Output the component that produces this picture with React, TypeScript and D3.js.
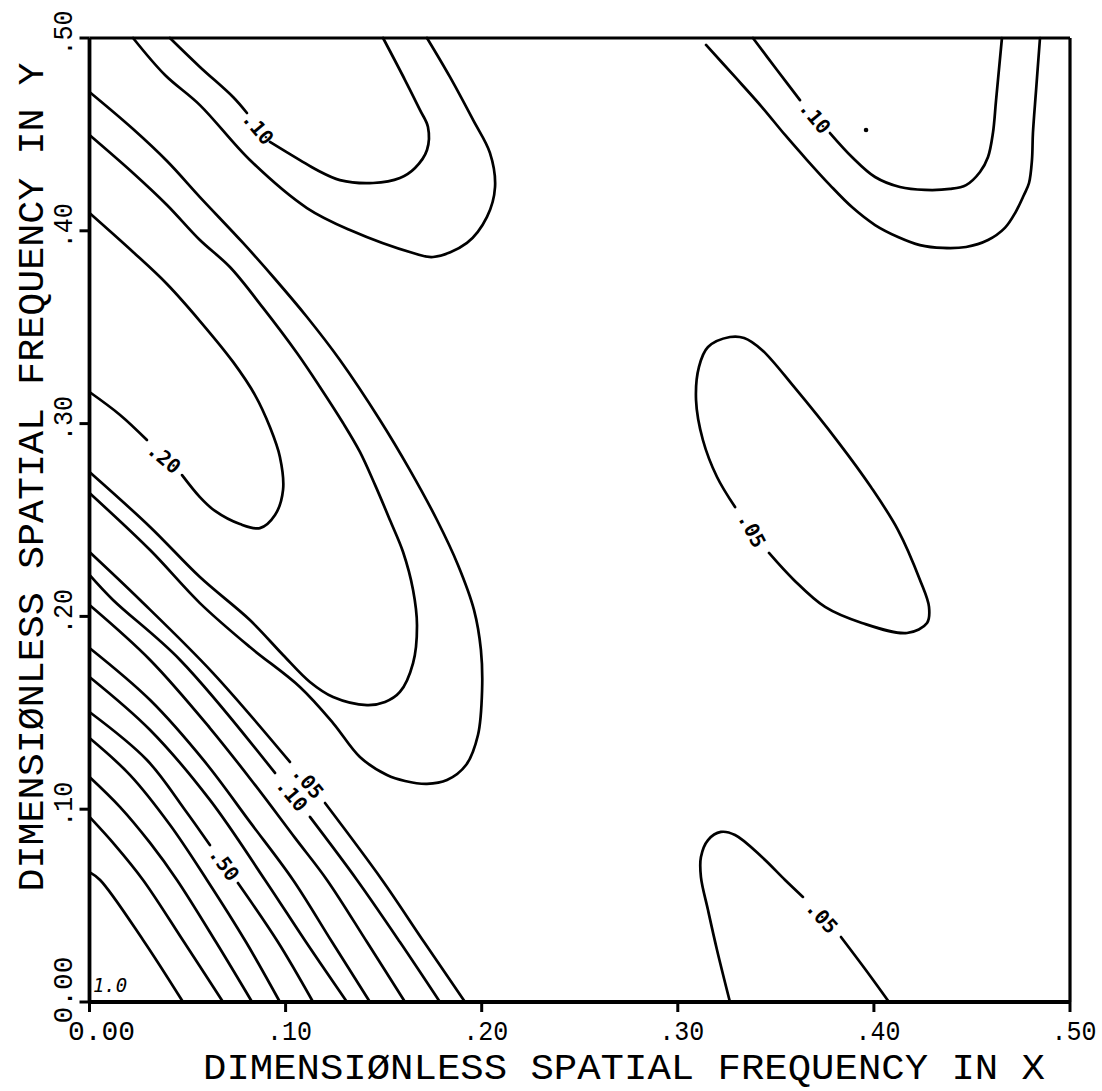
import React from "react";
import * as d3 from "d3";

type P = [number, number];

// ---- contour lines around the origin (left axis -> bottom axis) ----
const c90: P[] = [[0, 0.0674], [0.0054, 0.0633], [0.0273, 0.0322], [0.0477, 0]];
const c80: P[] = [[0, 0.096], [0.013, 0.0814], [0.0273, 0.0633], [0.0482, 0.0311], [0.0681, 0]];
const c70: P[] = [[0, 0.1167], [0.0156, 0.1011], [0.0309, 0.0825], [0.0446, 0.0633], [0.0645, 0.0311], [0.0829, 0]];
const c60: P[] = [[0, 0.1369], [0.0207, 0.1177], [0.0411, 0.0918], [0.0599, 0.0633], [0.0798, 0.0311], [0.0971, 0]];
const c50a: P[] = [[0, 0.1504], [0.0293, 0.1255], [0.0487, 0.0996], [0.0614, 0.0814]];
const c50b: P[] = [[0.0757, 0.0617], [0.0961, 0.0311], [0.114, 0]];
const c40: P[] = [[0, 0.1686], [0.0309, 0.1411], [0.0614, 0.1048], [0.0895, 0.0633], [0.1104, 0.0311], [0.1313, 0]];
const c30: P[] = [[0, 0.1836], [0.0309, 0.1566], [0.0589, 0.1245], [0.0818, 0.0934], [0.1038, 0.0633], [0.1237, 0.0311], [0.143, 0]];
const c20: P[] = [[0, 0.2059], [0.0309, 0.1774], [0.0614, 0.1421], [0.0844, 0.1126], [0.1048, 0.0851], [0.1211, 0.0633], [0.1415, 0.0311], [0.1609, 0]];
const c10a: P[] = [[0, 0.2215], [0.012, 0.2085], [0.0462, 0.1774], [0.0946, 0.1188]];
const c10b: P[] = [[0.1124, 0.096], [0.1364, 0.0633], [0.1583, 0.0311], [0.1787, 0]];
const c05a: P[] = [[0, 0.2334], [0.0258, 0.2085], [0.063, 0.1706], [0.1022, 0.1245]];
const c05b: P[] = [[0.1201, 0.1032], [0.1492, 0.0633], [0.1706, 0.0311], [0.1915, 0]];

// ---- U-shaped contours opening to the left axis ----
const uLeft05: P[] = [
  [0, 0.472], [0.0222, 0.4528], [0.0395, 0.4362], [0.0563, 0.4175], [0.0783, 0.3937], [0.0946, 0.375],
  [0.1109, 0.3553], [0.1277, 0.333], [0.1481, 0.3019], [0.1634, 0.2759], [0.1772, 0.25], [0.1879, 0.2267],
  [0.1961, 0.2033], [0.1996, 0.1826], [0.2002, 0.1618], [0.1981, 0.1385], [0.192, 0.1229], [0.1823, 0.1151],
  [0.1721, 0.1131], [0.1609, 0.1146], [0.1517, 0.1177], [0.1379, 0.1271], [0.1242, 0.1447], [0.1073, 0.1634],
  [0.0818, 0.1841], [0.0563, 0.2069], [0.0309, 0.2344], [0, 0.264],
];
const uLeft10: P[] = [
  [0, 0.4497], [0.0222, 0.43], [0.0395, 0.4134], [0.0563, 0.3952], [0.0716, 0.3812], [0.0885, 0.36],
  [0.1058, 0.3366], [0.1175, 0.319], [0.1293, 0.3003], [0.1379, 0.2853], [0.1456, 0.2682], [0.1532, 0.25],
  [0.1599, 0.2334], [0.165, 0.2137], [0.167, 0.1955], [0.165, 0.1758], [0.1583, 0.1608], [0.1507, 0.1556],
  [0.1415, 0.154], [0.1242, 0.1582], [0.1124, 0.166], [0.0987, 0.18], [0.0818, 0.1981], [0.0563, 0.2204],
  [0.0309, 0.2464], [0, 0.2749],
];
const uLeft20a: P[] = [
  [0, 0.4092], [0.0222, 0.389], [0.0395, 0.3724], [0.0563, 0.3532], [0.0732, 0.332], [0.0844, 0.3148],
  [0.092, 0.2982], [0.0971, 0.2827], [0.0987, 0.2656], [0.0946, 0.2526], [0.0869, 0.2458], [0.0767, 0.2479],
  [0.064, 0.2547], [0.0563, 0.2619], [0.0472, 0.2733],
];
const uLeft20b: P[] = [[0.0293, 0.2915], [0.0156, 0.3045], [0, 0.3164]];

// ---- U-shaped contours hanging from the top axis (left) ----
const uTop05: P[] = [
  [0.0222, 0.5], [0.0385, 0.4808], [0.0563, 0.4652], [0.0818, 0.4367], [0.1109, 0.4118], [0.1328, 0.4004],
  [0.165, 0.3885], [0.1752, 0.3864], [0.1925, 0.3937], [0.2027, 0.4072], [0.2068, 0.4227], [0.2042, 0.4404],
  [0.1956, 0.4575], [0.1838, 0.4798], [0.1721, 0.5],
];
const uTop10a: P[] = [[0.041, 0.5], [0.0563, 0.485], [0.0732, 0.4694], [0.0803, 0.4611]];
const uTop10b: P[] = [
  [0.092, 0.4461], [0.1073, 0.4367], [0.116, 0.4315], [0.1277, 0.4263], [0.1446, 0.4248], [0.1583, 0.4274],
  [0.166, 0.4326], [0.1721, 0.4419], [0.1726, 0.4538], [0.1685, 0.4627], [0.1609, 0.4782], [0.1497, 0.5],
];

// ---- U-shaped contours hanging from the top axis (right) ----
const uRight05: P[] = [
  [0.3144, 0.4964], [0.3292, 0.4798], [0.3429, 0.4642], [0.3547, 0.4497], [0.3659, 0.4367], [0.3776, 0.4237],
  [0.3888, 0.4123], [0.4006, 0.403], [0.4123, 0.3968], [0.4235, 0.3926], [0.4352, 0.3911], [0.447, 0.3916],
  [0.4582, 0.3952], [0.4668, 0.4015], [0.472, 0.4092], [0.4765, 0.4186], [0.4791, 0.4248], [0.4806, 0.4367],
  [0.4811, 0.4507], [0.4827, 0.473], [0.4847, 0.5],
];
const uRight10a: P[] = [[0.3383, 0.5], [0.3506, 0.4834], [0.3623, 0.4678]];
const uRight10b: P[] = [
  [0.3776, 0.4507], [0.3888, 0.4383], [0.4006, 0.4279], [0.4133, 0.4227], [0.4261, 0.4212], [0.4388, 0.4217],
  [0.447, 0.4237], [0.4541, 0.4305], [0.4582, 0.4383], [0.4607, 0.4507], [0.4623, 0.4678], [0.4653, 0.5],
];

// ---- closed .05 island in the middle right ----
const island05: P[] = [
  [0.3465, 0.2329], [0.3592, 0.2189], [0.3751, 0.2049], [0.3939, 0.1966], [0.4169, 0.1914], [0.4271, 0.1966],
  [0.4281, 0.2049], [0.4235, 0.2189], [0.4123, 0.2448], [0.3985, 0.2671], [0.3822, 0.2899], [0.3593, 0.319],
  [0.3429, 0.3382], [0.3338, 0.3444], [0.3266, 0.3449], [0.3154, 0.3397], [0.3108, 0.3294], [0.3093, 0.3122],
  [0.3128, 0.2915], [0.32, 0.2723], [0.3292, 0.2567],
];

// ---- .05 hump rising from the bottom axis ----
const hump05a: P[] = [
  [0.3266, 0], [0.32, 0.027], [0.3154, 0.0477], [0.3118, 0.0648], [0.3118, 0.0752], [0.3154, 0.084],
  [0.322, 0.0882], [0.3292, 0.0866], [0.3429, 0.0752], [0.3547, 0.0633], [0.3638, 0.0545],
];
const hump05b: P[] = [[0.3832, 0.0337], [0.3955, 0.0171], [0.4077, 0]];

const allSegments: P[][] = [
  c90, c80, c70, c60, c50a, c50b, c40, c30, c20, c10a, c10b, c05a, c05b,
  uLeft05, uLeft10, uLeft20a, uLeft20b,
  uTop05, uTop10a, uTop10b,
  uRight05, uRight10a, uRight10b,
  island05, hump05a, hump05b,
];

// contour labels: text, data position, rotation (deg)
const labelText = [".50", ".10", ".05", ".20", ".10", ".10", ".05", ".05"];
const labelX = [0.0687, 0.1033, 0.1114, 0.038, 0.0859, 0.3699, 0.3378, 0.3735];
const labelY = [0.0716, 0.1074, 0.1141, 0.2822, 0.4533, 0.459, 0.2448, 0.0441];
const labelAngle = [54, 50, 50, 40, 50, 50, 62, 48];

const originLabel = { text: "1.0", x: 0.0105, y: 0.0088 };
const specks: P[] = [[0.396, 0.4523]];

const tickValues = [0, 0.1, 0.2, 0.3, 0.4, 0.5];
const tickLabels = ["0.00", ".10", ".20", ".30", ".40", ".50"];

const xTitle = "DIMENSIØNLESS SPATIAL FREQUENCY IN X";
const yTitle = "DIMENSIØNLESS SPATIAL FREQUENCY IN Y";

export default function App() {
  const x = d3.scaleLinear().domain([0, 0.5]).range([89.5, 1070]);
  const y = d3.scaleLinear().domain([0, 0.5]).range([1002, 38]);
  const line = d3
    .line<P>()
    .x((d) => x(d[0]))
    .y((d) => y(d[1]))
    .curve(d3.curveCatmullRom.alpha(0.5));

  const font = "'Liberation Mono', 'DejaVu Sans Mono', monospace";
  const labelFont = "'DejaVu Sans Mono', monospace";

  return (
    <svg
      width={1102}
      height={1091}
      style={{ position: "absolute", left: 0, top: 0, background: "#fff" }}
    >
      <rect width={1102} height={1091} fill="#fff" />
      {allSegments.map((s, i) => (
        <path
          key={i}
          d={line(s) || ""}
          fill="none"
          stroke="#000"
          strokeWidth={2.7}
          strokeLinejoin="round"
          strokeLinecap="round"
        />
      ))}
      {specks.map((s, i) => (
        <circle key={i} cx={x(s[0])} cy={y(s[1])} r={2.3} fill="#000" />
      ))}
      {/* frame */}
      <line x1={x(0)} y1={y(0.5)} x2={x(0.5)} y2={y(0.5)} stroke="#000" strokeWidth={3.2} />
      <line x1={x(0.5)} y1={y(0.5)} x2={x(0.5)} y2={y(0)} stroke="#000" strokeWidth={3.2} />
      <line x1={x(0)} y1={y(0)} x2={x(0.5)} y2={y(0)} stroke="#000" strokeWidth={3.8} />
      <line x1={x(0)} y1={y(0.5)} x2={x(0)} y2={y(0)} stroke="#000" strokeWidth={3.8} />
      {/* ticks */}
      {tickValues.map((t, i) => (
        <g key={"xt" + i}>
          <line x1={x(t)} x2={x(t)} y1={y(0)} y2={y(0) + 10} stroke="#000" strokeWidth={3} />
          <text
            x={x(t) + (tickLabels[i].length === 4 ? 12 : 4)}
            y={1040}
            textAnchor="middle"
            fontFamily={font}
            fontSize={28}
            textLength={tickLabels[i].length === 4 ? 67 : 45}
            lengthAdjust="spacingAndGlyphs"
          >
            {tickLabels[i]}
          </text>
        </g>
      ))}
      {tickValues.map((t, i) => {
        const cy = y(t) - (tickLabels[i].length === 4 ? 12 : 5);
        return (
          <g key={"yt" + i}>
            <line x1={x(0) - 10} x2={x(0)} y1={y(t)} y2={y(t)} stroke="#000" strokeWidth={3} />
            <text
              transform={`translate(72,${cy}) rotate(-90)`}
              textAnchor="middle"
              fontFamily={font}
              fontSize={28}
              textLength={tickLabels[i].length === 4 ? 67 : 45}
              lengthAdjust="spacingAndGlyphs"
            >
              {tickLabels[i]}
            </text>
          </g>
        );
      })}
      {/* axis titles */}
      <text
        x={624}
        y={1079}
        textAnchor="middle"
        fontFamily={font}
        fontSize={36}
        textLength={842}
        lengthAdjust="spacingAndGlyphs"
      >
        {xTitle}
      </text>
      <text
        transform="translate(43,477) rotate(-90)"
        textAnchor="middle"
        fontFamily={font}
        fontSize={37}
        textLength={829}
        lengthAdjust="spacingAndGlyphs"
      >
        {yTitle}
      </text>
      {/* contour labels */}
      {labelText.map((t, i) => (
        <text
          key={"cl" + i}
          transform={`translate(${x(labelX[i])},${y(labelY[i])}) rotate(${labelAngle[i]})`}
          textAnchor="middle"
          dominantBaseline="central"
          fontFamily={labelFont}
          fontSize={20}
          fontWeight="bold"
        >
          {t}
        </text>
      ))}
      <text
        x={x(originLabel.x)}
        y={y(originLabel.y)}
        textAnchor="middle"
        dominantBaseline="central"
        fontFamily={labelFont}
        fontSize={19}
        fontStyle="italic"
      >
        {originLabel.text}
      </text>
    </svg>
  );
}
